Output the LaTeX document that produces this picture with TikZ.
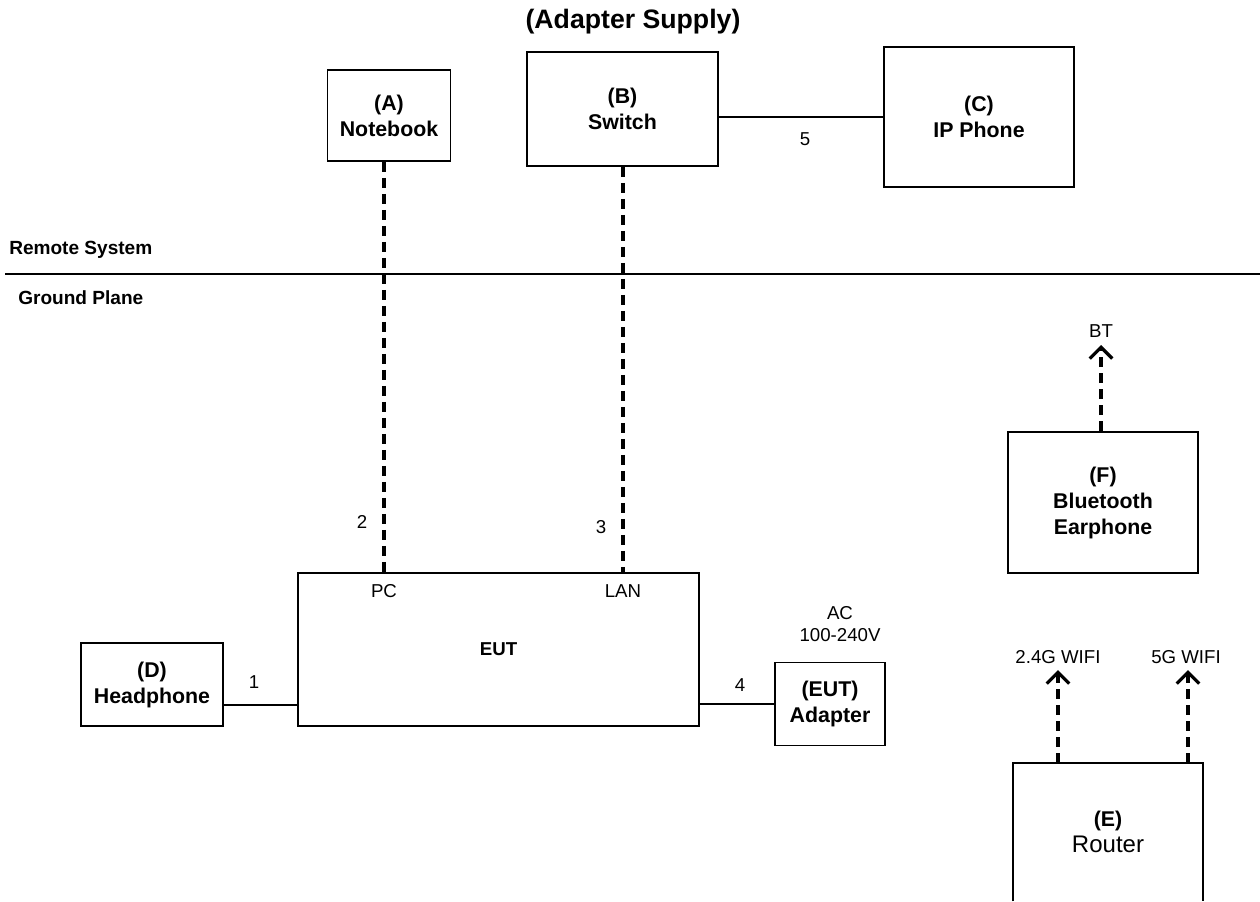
\documentclass[tikz,border=0pt]{standalone}
\usepackage{fontspec}
\setmainfont{Liberation Sans}
\usetikzlibrary{arrows.meta}
\begin{document}
\begin{tikzpicture}[x=0.75pt,y=-0.75pt,
  box/.style={draw,line width=1.4pt,inner sep=0pt,align=center,
    font=\fontsize{16}{19.5}\selectfont\bfseries},
  lbl/.style={inner sep=0pt,font=\fontsize{14}{17}\selectfont},
  blbl/.style={inner sep=0pt,font=\fontsize{14.3}{17}\selectfont\bfseries},
  wire/.style={line width=1.4pt},
  dline/.style={line width=2.3pt,dash pattern=on 7.5pt off 4.5pt},
  wave/.style={dline,-{Straight Barb[length=8.5pt,width=17pt,line width=2.4pt]}}]
\useasboundingbox (0,0) rectangle (1260,901);
\node[inner sep=0pt,font=\fontsize{20}{24}\selectfont\bfseries] (title) at (633,22) {(Adapter Supply)};
% boxes
\node[box,minimum width=92.25pt,minimum height=68.25pt] (A) at (389,115.5) {(A)\\Notebook};
\node[box,minimum width=143.25pt,minimum height=85.5pt] (B) at (622.5,109) {(B)\\Switch};
\node[box,minimum width=142.5pt,minimum height=105pt] (C) at (979,117) {(C)\\IP Phone};
\node[box,minimum width=300.75pt,minimum height=114.75pt,font=\fontsize{14}{17}\selectfont\bfseries] (EUT) at (498.5,649.5) {EUT};
\node[box,minimum width=106.5pt,minimum height=62.25pt] (D) at (152,684.5) {(D)\\Headphone};
\node[box,minimum width=82.5pt,minimum height=62.25pt] (AD) at (830,704) {(EUT)\\Adapter};
\node[box,minimum width=142.5pt,minimum height=105.75pt] (F) at (1103,502.5) {(F)\\Bluetooth\\Earphone};
\node[inner sep=0pt,minimum width=142.5pt,minimum height=103.5pt,align=center,
  font=\fontsize{18}{19.5}\selectfont] (E) at (1108,832)
  {{\fontsize{16}{19.5}\selectfont\bfseries (E)}\\Router};
\draw[line width=1.4pt] (E.south west) -- (E.north west) -- (E.north east) -- (E.south east);
% ground line and labels
\node[blbl,anchor=west] (rs) at (9,250) {Remote System};
\node[blbl,anchor=west] (gp) at (18,298) {Ground Plane};
\coordinate (gl) at (5,274);
\coordinate (gr) at (1260,274);
\draw[wire] (gl) -- (gr);
% port labels
\node[lbl] (PC) at (384,591) {PC};
\node[lbl] (LAN) at (623,591) {LAN};
% cable labels
\node[lbl] (n1) at (254,682) {1};
\node[lbl] (n2) at (362,522) {2};
\node[lbl] (n3) at (601,527) {3};
\node[lbl] (n4) at (740,685) {4};
\node[lbl] (n5) at (805,139) {5};
\node[lbl,align=center,font=\fontsize{14}{16.5}\selectfont] (ac) at (840,624) {AC\\100-240V};
% connectors
\draw[wire] (B.east |- C.west) -- (C.west);
\draw[dline] (A.south -| PC) -- (PC |- EUT.north);
\draw[dline] (B.south -| LAN) -- (LAN |- EUT.north);
\draw[wire] ([yshift=16.5pt]D.south east) -- ([yshift=16.5pt]D.south east -| EUT.west);
\draw[wire] (EUT.east |- AD.west) -- (AD.west);
% wireless
\node[lbl] (BT) at (1101,331) {BT};
\node[lbl] (w24) at (1058,657) {2.4G WIFI};
\node[lbl] (w5) at (1186,657) {5G WIFI};
\coordinate (btTip) at (1101,345);
\coordinate (w24Tip) at (1058,670);
\coordinate (w5Tip) at (1188,670);
\draw[wave] (F.north -| btTip) -- (btTip);
\draw[wave] (E.north -| w24Tip) -- (w24Tip);
\draw[wave] (E.north -| w5Tip) -- (w5Tip);
\end{tikzpicture}
\end{document}
